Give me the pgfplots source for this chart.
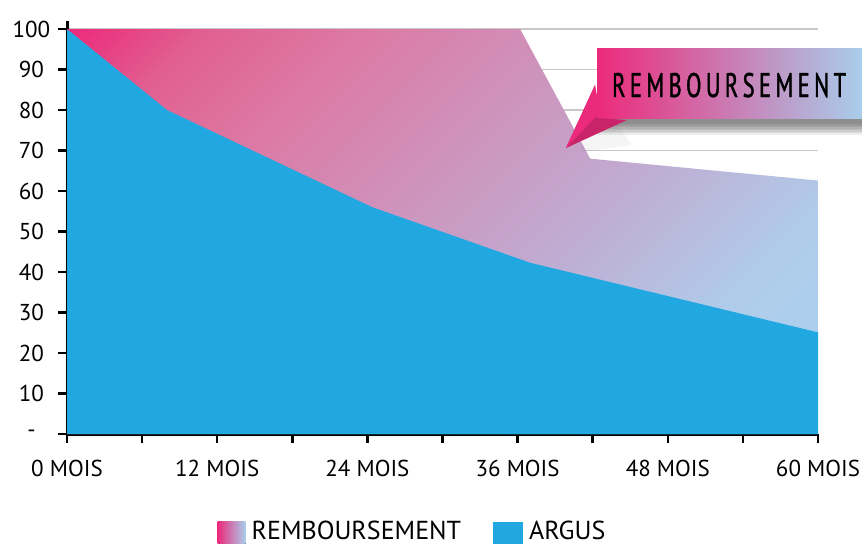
\documentclass[border=0pt]{standalone}
\usepackage{pgfplots}
\usepackage{pgfplotstable}
\pgfplotsset{compat=1.18}
\usepackage{fontspec}
\setmainfont{PT Sans}
\newfontfamily\calloutfont[FakeStretch=0.66,LetterSpace=13,FakeBold=1.2]{PT Sans}
\definecolor{argus}{HTML}{22A8E0}
\definecolor{rpink}{HTML}{EC2A7B}
\definecolor{rblue}{HTML}{A8CFEC}
\definecolor{gridgray}{HTML}{C8C8C8}
\definecolor{rA}{HTML}{EC2A7B}
\definecolor{rB}{HTML}{E16091}
\definecolor{rC}{HTML}{DC7AA5}
\definecolor{rD}{HTML}{C0ACD2}
\definecolor{rE}{HTML}{AFCDEB}
\definecolor{rF}{HTML}{A8D2F0}
\pgfdeclareverticalshading{rembshade}{100bp}{color(0bp)=(rF); color(14.6bp)=(rF); color(27.3bp)=(rE); color(41.5bp)=(rD); color(67bp)=(rC); color(76.9bp)=(rB); color(85.4bp)=(rA); color(100bp)=(rA)}
\pgfplotsset{
  layers/mylayers/.define layer set={axis background,axis grid,pre main,main,axis ticks,axis lines,axis tick labels,axis descriptions,axis foreground}{},
}
\pgfplotstableread{
x y
0 100
36.2 100
41.8 68
60 62.6
}\rembtable
\pgfplotstableread{
x y
0 100
8 80
24.4 56
37 42.3
60 25.1
}\argustable

\begin{document}
\begin{tikzpicture}
\begin{axis}[
  set layers=mylayers,
  at={(67pt,-434pt)}, anchor=south west,
  scale only axis, width=751pt, height=413pt,
  xmin=0, xmax=60, ymin=0, ymax=102,
  axis lines*=left,
  axis line style={line width=3pt, black, -},
  xtick={0,6,...,60},
  xticklabels={0 MOIS,,12 MOIS,,24 MOIS,,36 MOIS,,48 MOIS,,60 MOIS},
  ytick={0,10,...,100},
  yticklabels={-,10,20,30,40,50,60,70,80,90,100},
  tick align=outside,
  major tick length=9pt,
  tick style={line width=2.5pt, black},
  ymajorgrids, grid style={gridgray, line width=1.8pt},
  ticklabel style={font=\fontsize{23}{26}\selectfont, black},
  xticklabel style={yshift=-14pt},
  yticklabel style={text width=40pt, align=center, xshift=-3pt},
  legend style={at={(0.46,-0.20)}, anchor=north, draw=none, fill=none,
    legend columns=2, font=\fontsize{26}{28}\selectfont,
    /tikz/every odd column/.append style={column sep=4pt},
    /tikz/every even column/.append style={column sep=30pt}},
  legend cell align=left,
]
\addplot[draw=none, shading=rembshade, shading angle=45,
  legend image code/.code={\fill[left color=rpink,right color=rblue] (0pt,-13pt) rectangle (28pt,9pt);}]
  table {\rembtable} \closedcycle;
\addlegendentry{REMBOURSEMENT}
\addplot[draw=none, fill=argus,
  legend image code/.code={\fill[argus] (0pt,-13pt) rectangle (30pt,9pt);}]
  table {\argustable} \closedcycle;
\addlegendentry{ARGUS}
\end{axis}
% callout shadow
\foreach \i in {0,...,7} {
  \fill[black, opacity=0.07] ({600pt-0.5*\i pt},{-54pt+0.8*\i pt}) rectangle ({900pt},{-124pt-1.5*\i pt});
}
\fill[black, opacity=0.04] (578pt,-132pt) -- (615pt,-121pt) -- (632pt,-145pt) -- (583pt,-152pt) -- cycle;
% callout box
\fill[left color=rpink, right color=rblue] (597pt,-48pt) rectangle (864pt,-118pt);
\fill[rpink!85!black] (595pt,-85pt) -- (566pt,-148pt) -- (627pt,-120pt) -- (597pt,-118pt) -- cycle;
\fill[rpink] (595pt,-85pt) -- (566pt,-148pt) -- (600pt,-112pt) -- cycle;
\node[anchor=base west, inner sep=0pt] at (612pt,-97pt) {\calloutfont\fontsize{34}{34}\selectfont REMBOURSEMENT};
\pgfresetboundingbox
\useasboundingbox (0pt,0pt) rectangle (862pt,-546pt);
\end{tikzpicture}
\end{document}
